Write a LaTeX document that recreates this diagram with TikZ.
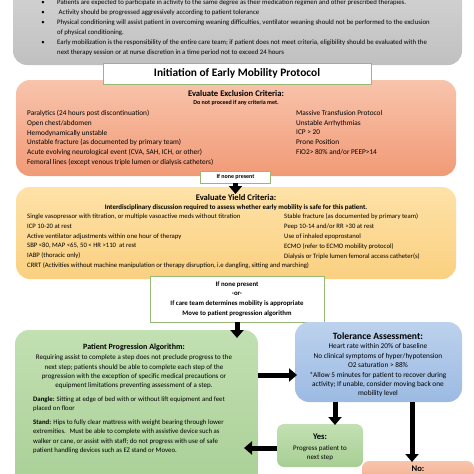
\documentclass[tikz,border=0pt]{standalone}
\usepackage{fontspec}
\setmainfont{Carlito}
\usetikzlibrary{arrows.meta, positioning}
\definecolor{notetop}{RGB}{214,214,214}
\definecolor{notebot}{RGB}{192,192,192}
\definecolor{excltop}{RGB}{248,196,172}
\definecolor{exclbot}{RGB}{241,154,118}
\definecolor{yieldtop}{RGB}{254,226,168}
\definecolor{yieldbot}{RGB}{250,208,128}
\definecolor{progtop}{RGB}{194,224,178}
\definecolor{progbot}{RGB}{168,206,148}
\definecolor{toltop}{RGB}{188,210,238}
\definecolor{tolbot}{RGB}{156,186,226}
\definecolor{noteframe}{RGB}{150,186,118}

\begin{document}
\begin{tikzpicture}[x=1pt, y=-1pt,
  panel/.style={rounded corners=14pt, inner sep=0pt},
  notice/.style={draw=noteframe, fill=white, line width=0.7pt, inner sep=0pt, align=center},
  listtext/.style={anchor=north west, inner sep=0pt, align=left, font=\fontsize{7.3}{9.65}\selectfont},
  bodytext/.style={inner sep=0pt, align=center, font=\fontsize{7}{9.4}\selectfont},
  heading/.style={inner sep=0pt, font=\bfseries\fontsize{8.6}{9}\selectfont},
  subheading/.style={inner sep=0pt, font=\bfseries\fontsize{6}{6}\selectfont},
  bigarrow/.style={line width=5pt, -{Triangle[width=13pt, length=8pt]}},
]
\useasboundingbox (0,0) rectangle (474,474);
\clip (0,0) rectangle (474,474);

% General notes
\node[panel, top color=notetop, bottom color=notebot, minimum width=449pt, minimum height=92pt] (notes) at (237.5,19) {};
\foreach \y [count=\i] in {3,13,23,43}
  \node[inner sep=0pt, font=\fontsize{6.8}{7}\selectfont] (dot\i) at (43,\y) {\textbullet};
\node[listtext, font=\fontsize{6.8}{10}\selectfont] (notetext) at (57,-0.5) {Patients are expected to participate in activity to the same degree as their medication regimen and other prescribed therapies.\\
 \ Activity should be progressed aggressively according to patient tolerance\\
Physical conditioning will assist patient in overcoming weaning difficulties, ventilator weaning should not be performed to the exclusion\\
of physical conditioning.\\
Early mobilization is the responsibility of the entire care team; if patient does not meet criteria, eligibility should be evaluated with the\\
next therapy session or at nurse discretion in a time period not to exceed 24 hours};

% Exclusion criteria
\node[panel, top color=excltop, bottom color=exclbot, minimum width=440pt, minimum height=96pt] (excl) at (236,128) {};
\node[notice, minimum width=268pt, minimum height=21pt, font=\bfseries\fontsize{11.4}{12}\selectfont] (init) at (237,73.5) {Initiation of Early Mobility Protocol};
\node[heading] (exclhead) at (236,94) {Evaluate Exclusion Criteria:};
\node[subheading] (exclsub) at (236,103) {Do not proceed if any criteria met.};
\node[listtext] (excll) at (27,110.3) {Paralytics (24 hours post discontinuation)\\
Open chest/abdomen\\
Hemodynamically unstable\\
Unstable fracture (as documented by primary team)\\
Acute evolving neurological event (CVA, SAH, ICH, or other)\\
Femoral lines (except venous triple lumen or dialysis catheters)};
\node[listtext] (exclr) at (296,110.3) {Massive Transfusion Protocol\\
Unstable Arrhythmias\\
ICP > 20\\
Prone Position\\
FiO2> 80\% and/or PEEP>14};
\node[notice, minimum width=70pt, minimum height=12pt, font=\bfseries\fontsize{6}{6}\selectfont] (none1) at (235.5,177) {If none present};

% Yield criteria
\node[panel, top color=yieldtop, bottom color=yieldbot, minimum width=440pt, minimum height=92pt] (yield) at (236,233) {};
\node[heading] (yieldhead) at (236,198) {Evaluate Yield Criteria:};
\node[subheading, font=\bfseries\fontsize{6.9}{7}\selectfont] (yieldsub) at (236,207.5) {Interdisciplinary discussion required to assess whether early mobility is safe for this patient.};
\node[listtext, font=\fontsize{6.7}{9.8}\selectfont] (yieldl) at (27,213.7) {Single vasopressor with titration, or multiple vasoactive meds without titration\\
ICP 10-20 at rest\\
Active ventilator adjustments within one hour of therapy\\
SBP <80, MAP <65, 50 < HR >110 \ at rest\\
IABP (thoracic only)\\
CRRT (Activities without machine manipulation or therapy disruption, i.e dangling, sitting and marching)};
\node[listtext, font=\fontsize{6.7}{9.8}\selectfont] (yieldr) at (284,213.7) {Stable fracture (as documented by primary team)\\
Peep 10-14 and/or RR >30 at rest\\
Use of inhaled epoprostanol\\
ECMO (refer to ECMO mobility protocol)\\
Dialysis or Triple lumen femoral access catheter(s)};
\node[notice, minimum width=174pt, minimum height=46pt, font=\bfseries\fontsize{6.8}{9.7}\selectfont] (none2) at (237,299) {If none present\\-or-\\If care team determines mobility is appropriate\\Move to patient progression algorithm};

% Progression algorithm
\node[panel, top color=progtop, bottom color=progbot, minimum width=243pt, minimum height=170pt] (prog) at (136.5,415) {};
\node[heading, font=\bfseries\fontsize{8}{9}\selectfont] (proghead) at (134,347) {Patient Progression Algorithm:};
\node[bodytext] (progtext) at (134,372) {Requiring assist to complete a step does not preclude progress to the\\
next step; patients should be able to complete each step of the\\
progression with the exception of specific medical precautions or\\
equipment limitations preventing assessment of a step.};
\node[listtext, font=\fontsize{6.8}{9.2}\selectfont] (dangle) at (33,396.5) {\textbf{Dangle:} Sitting at edge of bed with or without lift equipment and feet\\
placed on floor};
\node[listtext, font=\fontsize{6.8}{9.3}\selectfont] (stand) at (33,419.5) {\textbf{Stand:} Hips to fully clear mattress with weight bearing through lower\\
extremities. \ Must be able to complete with assistive device such as\\
walker or cane, or assist with staff; do not progress with use of safe\\
patient handling devices such as EZ stand or Moveo.};

% Tolerance assessment
\node[panel, top color=toltop, bottom color=tolbot, minimum width=167pt, minimum height=80pt] (tol) at (378.5,362) {};
\node[heading, font=\bfseries\fontsize{9.6}{10}\selectfont] (tolhead) at (378,336) {Tolerance Assessment:};
\node[bodytext, font=\fontsize{7.3}{9.4}\selectfont] (toltext) at (378,370.5) {Heart rate within 20\% of baseline\\
No clinical symptoms of hyper/hypotension\\
O2 saturation > 88\%\\
*Allow 5 minutes for patient to recover during\\
activity; If unable, consider moving back one\\
mobility level};

% Outcomes
\node[panel, rounded corners=7pt, top color=progtop, bottom color=progbot, minimum width=86pt, minimum height=43pt] (yes) at (320,445.5) {};
\node[heading] (yeshead) at (320,437) {Yes:};
\node[bodytext] (yestext) at (320,453) {Progress patient to\\next step};
\node[panel, rounded corners=7pt, top color=excltop, bottom color=exclbot, minimum width=112pt, minimum height=40pt] (no) at (418,481) {};
\node[heading] (nohead) at (418,469) {No:};

% Connectors
\coordinate (yieldtip) at (235.5,194);
\coordinate (progtip) at (237,338);
\coordinate (tolin) at (297,375);
\coordinate (yestop) at (335,425);
\coordinate (progin) at (244,448);
\coordinate (notop) at (412,462);
\draw[bigarrow] (none1.south) -- (yieldtip);
\draw[bigarrow] (none2.south) -- (progtip);
\draw[bigarrow] (prog.east |- tolin) -- (tolin);
\draw[bigarrow] (tol.south -| yestop) -- (yestop);
\draw[bigarrow] (yes.west |- progin) -- (progin);
\draw[bigarrow] (tol.south -| notop) -- (notop);
\end{tikzpicture}
\end{document}
